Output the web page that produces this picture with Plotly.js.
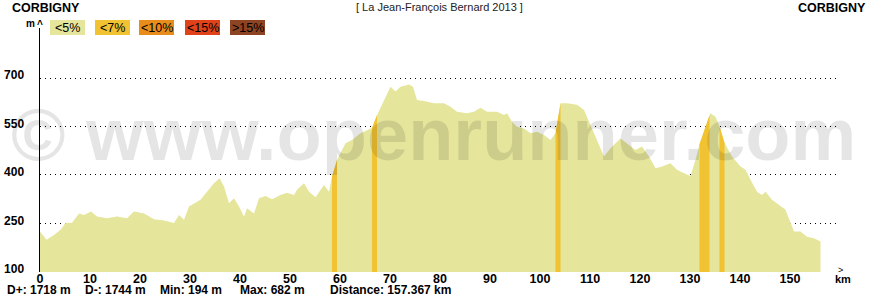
<!DOCTYPE html>
<html>
<head>
<meta charset="utf-8">
<script src="https://cdn.plot.ly/plotly-3.0.1.min.js"></script>
<style>html,body{margin:0;padding:0;background:#fff}#chart{width:880px;height:300px}</style>
</head>
<body>
<div id="chart"></div>
<script>
// ---- data ----
const km = [0,1.3,2.8,4.1,5.1,6.4,7.8,8.8,10.2,11.4,13.4,15.4,17.4,18.8,20.8,22.8,24.8,26.8,27.8,28.8,29.8,32.1,33.4,34.8,35.9,36.8,37.8,38.8,39.8,40.8,41.4,42.8,43.8,45.1,46.4,48.1,49.4,50.8,51.4,52.8,53.8,55.1,56.8,57.8,58.4,59.4,61.1,62.4,64.1,65.8,66.4,67.4,68.8,70.1,71.1,72.1,73.8,74.6,75.4,76.8,78.8,80.8,82.1,83.4,85.4,86.8,88.1,89.4,91.4,92.8,93.4,94.4,95.4,96.8,98.1,99.4,100.8,102.1,103.1,104.1,105.4,107.4,108.8,109.8,111.4,112.8,114.1,116.1,117.8,119.1,120.4,121.8,123.1,124.4,126.1,127.4,128.8,130.1,131.1,131.9,133.9,134.1,135.1,135.9,136.9,138.4,140.1,141.1,142.1,143.4,144.4,145.1,146.4,148.1,149.1,150.8,152.1,153.4,154.8,156.1];
const elev = [225,199,214,230,251,252,281,276,287,271,266,271,266,287,281,263,259,251,276,261,302,323,348,374,390,364,312,328,302,271,297,281,328,335,325,338,345,338,354,374,348,331,369,348,395,446,498,508,529,539,545,585,632,673,658,673,680,673,632,629,622,622,611,596,591,596,608,596,596,586,591,565,549,544,529,534,524,508,529,622,622,617,601,565,508,457,483,513,493,477,488,457,421,426,436,416,405,397,446,495,585,591,580,550,500,457,426,416,385,348,338,348,323,302,292,225,225,209,204,194];
// steep sections (grade class "<7%"), start/end km
const steepStart = [58.4, 66.4, 103.1, 131.9, 135.9];
const steepEnd   = [59.4, 67.4, 104.1, 133.9, 136.9];
const xTicks = [0,10,20,30,40,50,60,70,80,90,100,110,120,130,140,150];
const yTicks = [100,250,400,550,700];
const legendLabels = ['<5%','<7%','<10%','<15%','>15%'];
const legendColors = ['#e5e59b','#f1c232','#e88c1c','#e0421a','#8c4422'];
const statLabels = ['D+: 1718 m','D-: 1744 m','Min: 194 m','Max: 682 m','Distance: 157.367 km'];
const titleText = '[ La Jean-François Bernard 2013 ]';
const startName = 'CORBIGNY', endName = 'CORBIGNY';
const watermark = '© www.openrunner.com';

// ---- layout helpers (pixel -> paper) ----
const L = 40, R = 840, T = 28, B = 272;
const px = p => (p - L) / (R - L);
const py = p => (B - p) / (B - T);
const FONT = 'Liberation Sans, Arial, sans-serif';

const traces = [{
  x: km, y: elev, type: 'scatter', mode: 'lines', fill: 'tozeroy',
  fillcolor: legendColors[0], line: {width: 0, color: legendColors[0]}, hoverinfo: 'skip'
}];
steepStart.forEach((s, i) => {
  const e = steepEnd[i];
  const xs = [], ys = [];
  km.forEach((k, j) => { if (k >= s - 1e-9 && k <= e + 1e-9) { xs.push(k); ys.push(elev[j]); } });
  traces.push({x: xs, y: ys, type: 'scatter', mode: 'lines', fill: 'tozeroy',
    fillcolor: legendColors[1], line: {width: 0, color: legendColors[1]}, hoverinfo: 'skip'});
});

const ann = [];
const shapes = [];
const A = (text, x, y, opts) => ann.push(Object.assign({text, x: px(x), y: py(y), xref: 'paper', yref: 'paper',
  showarrow: false, xanchor: 'left', yanchor: 'middle', font: {family: FONT, size: 12, color: '#000'}}, opts || {}));

// watermark first so other texts sit on top
A(watermark, 433, 134, {xanchor: 'center', font: {family: FONT, size: 74, color: 'rgba(0,0,0,0.1)', weight: 'bold'}});

A(startName, 10, 8, {font: {family: FONT, size: 12.5, color: '#000', weight: 'bold'}});
A(endName, 868, 8, {xanchor: 'right', font: {family: FONT, size: 12.5, color: '#000', weight: 'bold'}});
A(titleText, 439, 7, {xanchor: 'center', font: {family: FONT, size: 11, color: '#222'}});
A('m', 30.5, 24, {xanchor: 'center', font: {family: FONT, size: 10, color: '#000', weight: 'bold'}});
A('^', 40, 25, {xanchor: 'center', font: {family: FONT, size: 10, color: '#000', weight: 'bold'}});

const boxX = [50, 95, 139, 185, 230], boxW = 35;
legendLabels.forEach((lab, i) => {
  shapes.push({type: 'rect', xref: 'paper', yref: 'paper', x0: px(boxX[i]), x1: px(boxX[i] + boxW),
    y0: py(35), y1: py(20), fillcolor: legendColors[i], line: {width: 0}, layer: 'above'});
  A(lab, boxX[i] + boxW / 2, 28, {xanchor: 'center', font: {family: FONT, size: 12.5, color: '#000'}});
});

const statX = [5, 83, 158, 238, 328];
statLabels.forEach((s, i) => A(s, statX[i], 290, {font: {family: FONT, size: 12, color: '#000', weight: 'bold'}}));

A('>', 840, 270, {xanchor: 'center', font: {family: FONT, size: 9, color: '#000'}});
A('km', 843, 279, {xanchor: 'center', font: {family: FONT, size: 11, color: '#000', weight: 'bold'}});

const layout = {
  width: 880, height: 300,
  margin: {l: L, r: 880 - R, t: T, b: 300 - B, pad: 0},
  paper_bgcolor: '#fff', plot_bgcolor: '#fff',
  showlegend: false, hovermode: false,
  xaxis: {range: [0, 160], tickvals: xTicks, ticks: '', showgrid: false, zeroline: false, showline: false,
    tickfont: {family: FONT, size: 12.5, color: '#000', weight: 'bold'}, ticklabelstandoff: -3, fixedrange: true},
  yaxis: {range: [99.5, 855], tickvals: yTicks, ticks: '', showgrid: true, gridcolor: '#000', gridwidth: 1,
    griddash: '1px,4px', zeroline: false, showline: true, linecolor: '#000', linewidth: 1.5,
    tickfont: {family: FONT, size: 12, color: '#000', weight: 'bold'}, ticklabelstandoff: 12, ticklabelshift: -3,
    fixedrange: true},
  annotations: ann,
  shapes: shapes
};

Plotly.newPlot('chart', traces, layout, {staticPlot: true, displayModeBar: false});
</script>
</body>
</html>
